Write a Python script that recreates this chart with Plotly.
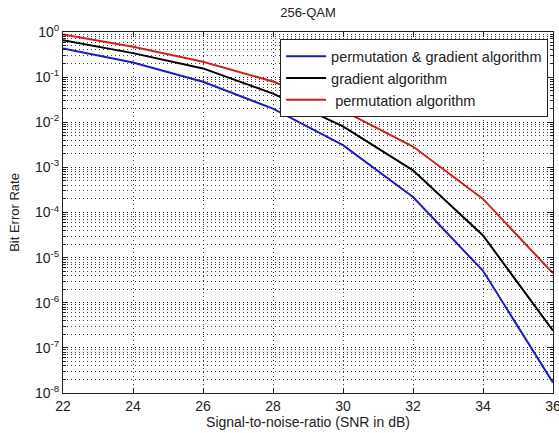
import plotly.graph_objects as go

snr = [22, 24, 26, 28, 30, 32, 34, 36]
ber_perm_grad = [0.43, 0.21, 0.079, 0.020, 0.0031, 2.2e-4, 5.1e-6, 1.7e-8]
ber_grad = [0.66, 0.34, 0.156, 0.043, 0.0081, 8.6e-4, 3.1e-5, 2.4e-7]
ber_perm = [0.88, 0.47, 0.22, 0.08, 0.018, 0.0029, 2.0e-4, 4.5e-6]

names = ["permutation & gradient algorithm", "gradient algorithm", " permutation algorithm"]
colors = ["#1c1cc0", "#000000", "#d02020"]

y_exps = [0, -1, -2, -3, -4, -5, -6, -7, -8]
y_tickvals = [10.0 ** e for e in y_exps]
y_ticktext = ["10<sup>%d</sup>" % e for e in y_exps]
x_ticks = [22, 24, 26, 28, 30, 32, 34, 36]

FONT = "Liberation Sans, Arial, sans-serif"

fig = go.Figure()
for ys, nm, c in zip([ber_perm_grad, ber_grad, ber_perm], names, colors):
    fig.add_trace(go.Scatter(x=snr, y=ys, mode="lines", name=nm,
                             line=dict(color=c, width=2)))

grid_col = "rgba(0,0,0,0.75)"
gdash = "1px,3px"
fig.update_layout(
    width=559, height=433,
    margin=dict(l=63, r=6, t=32, b=40, autoexpand=False),
    paper_bgcolor="white", plot_bgcolor="white",
    font=dict(family=FONT, size=14, color="#222"),
    title=dict(text="256-QAM", x=0.5, xref="paper", xanchor="center",
               y=1, yref="container", yanchor="top", pad=dict(t=8),
               font=dict(size=13, family=FONT)),
    showlegend=True,
    legend=dict(x=0.99, y=0.98, xanchor="right", yanchor="top",
                bgcolor="white", bordercolor="#222", borderwidth=1,
                font=dict(size=14.5, family=FONT), tracegroupgap=0,
                itemwidth=40),
)
fig.update_xaxes(
    range=[22, 36], tickvals=x_ticks, ticktext=[str(v) for v in x_ticks],
    showline=True, linecolor="#222", linewidth=1, mirror="allticks",
    ticks="inside", ticklen=5, tickcolor="#222",
    showgrid=True, gridcolor=grid_col, griddash=gdash, gridwidth=1,
    zeroline=False, ticklabeloverflow="allow", automargin=False,
    title=dict(text="Signal-to-noise-ratio (SNR in dB)", standoff=2, font=dict(size=14)),
    tickfont=dict(size=14),
)
fig.update_yaxes(
    type="log", range=[-8, 0], tickvals=y_tickvals, ticktext=y_ticktext,
    showline=True, linecolor="#222", linewidth=1, mirror="allticks",
    ticks="inside", ticklen=5, tickcolor="#222",
    showgrid=True, gridcolor=grid_col, griddash=gdash, gridwidth=1,
    minor=dict(dtick="D1", showgrid=True, gridcolor=grid_col, griddash=gdash,
               gridwidth=1, ticks="inside", ticklen=3, tickcolor="#222"),
    zeroline=False, ticklabeloverflow="allow", automargin=False,
    title=dict(text="Bit Error Rate", standoff=12, font=dict(size=13)),
    tickfont=dict(size=14),
)

fig.write_html("out.html", config={"displayModeBar": False},
               post_script="document.body.style.margin='0px';")
